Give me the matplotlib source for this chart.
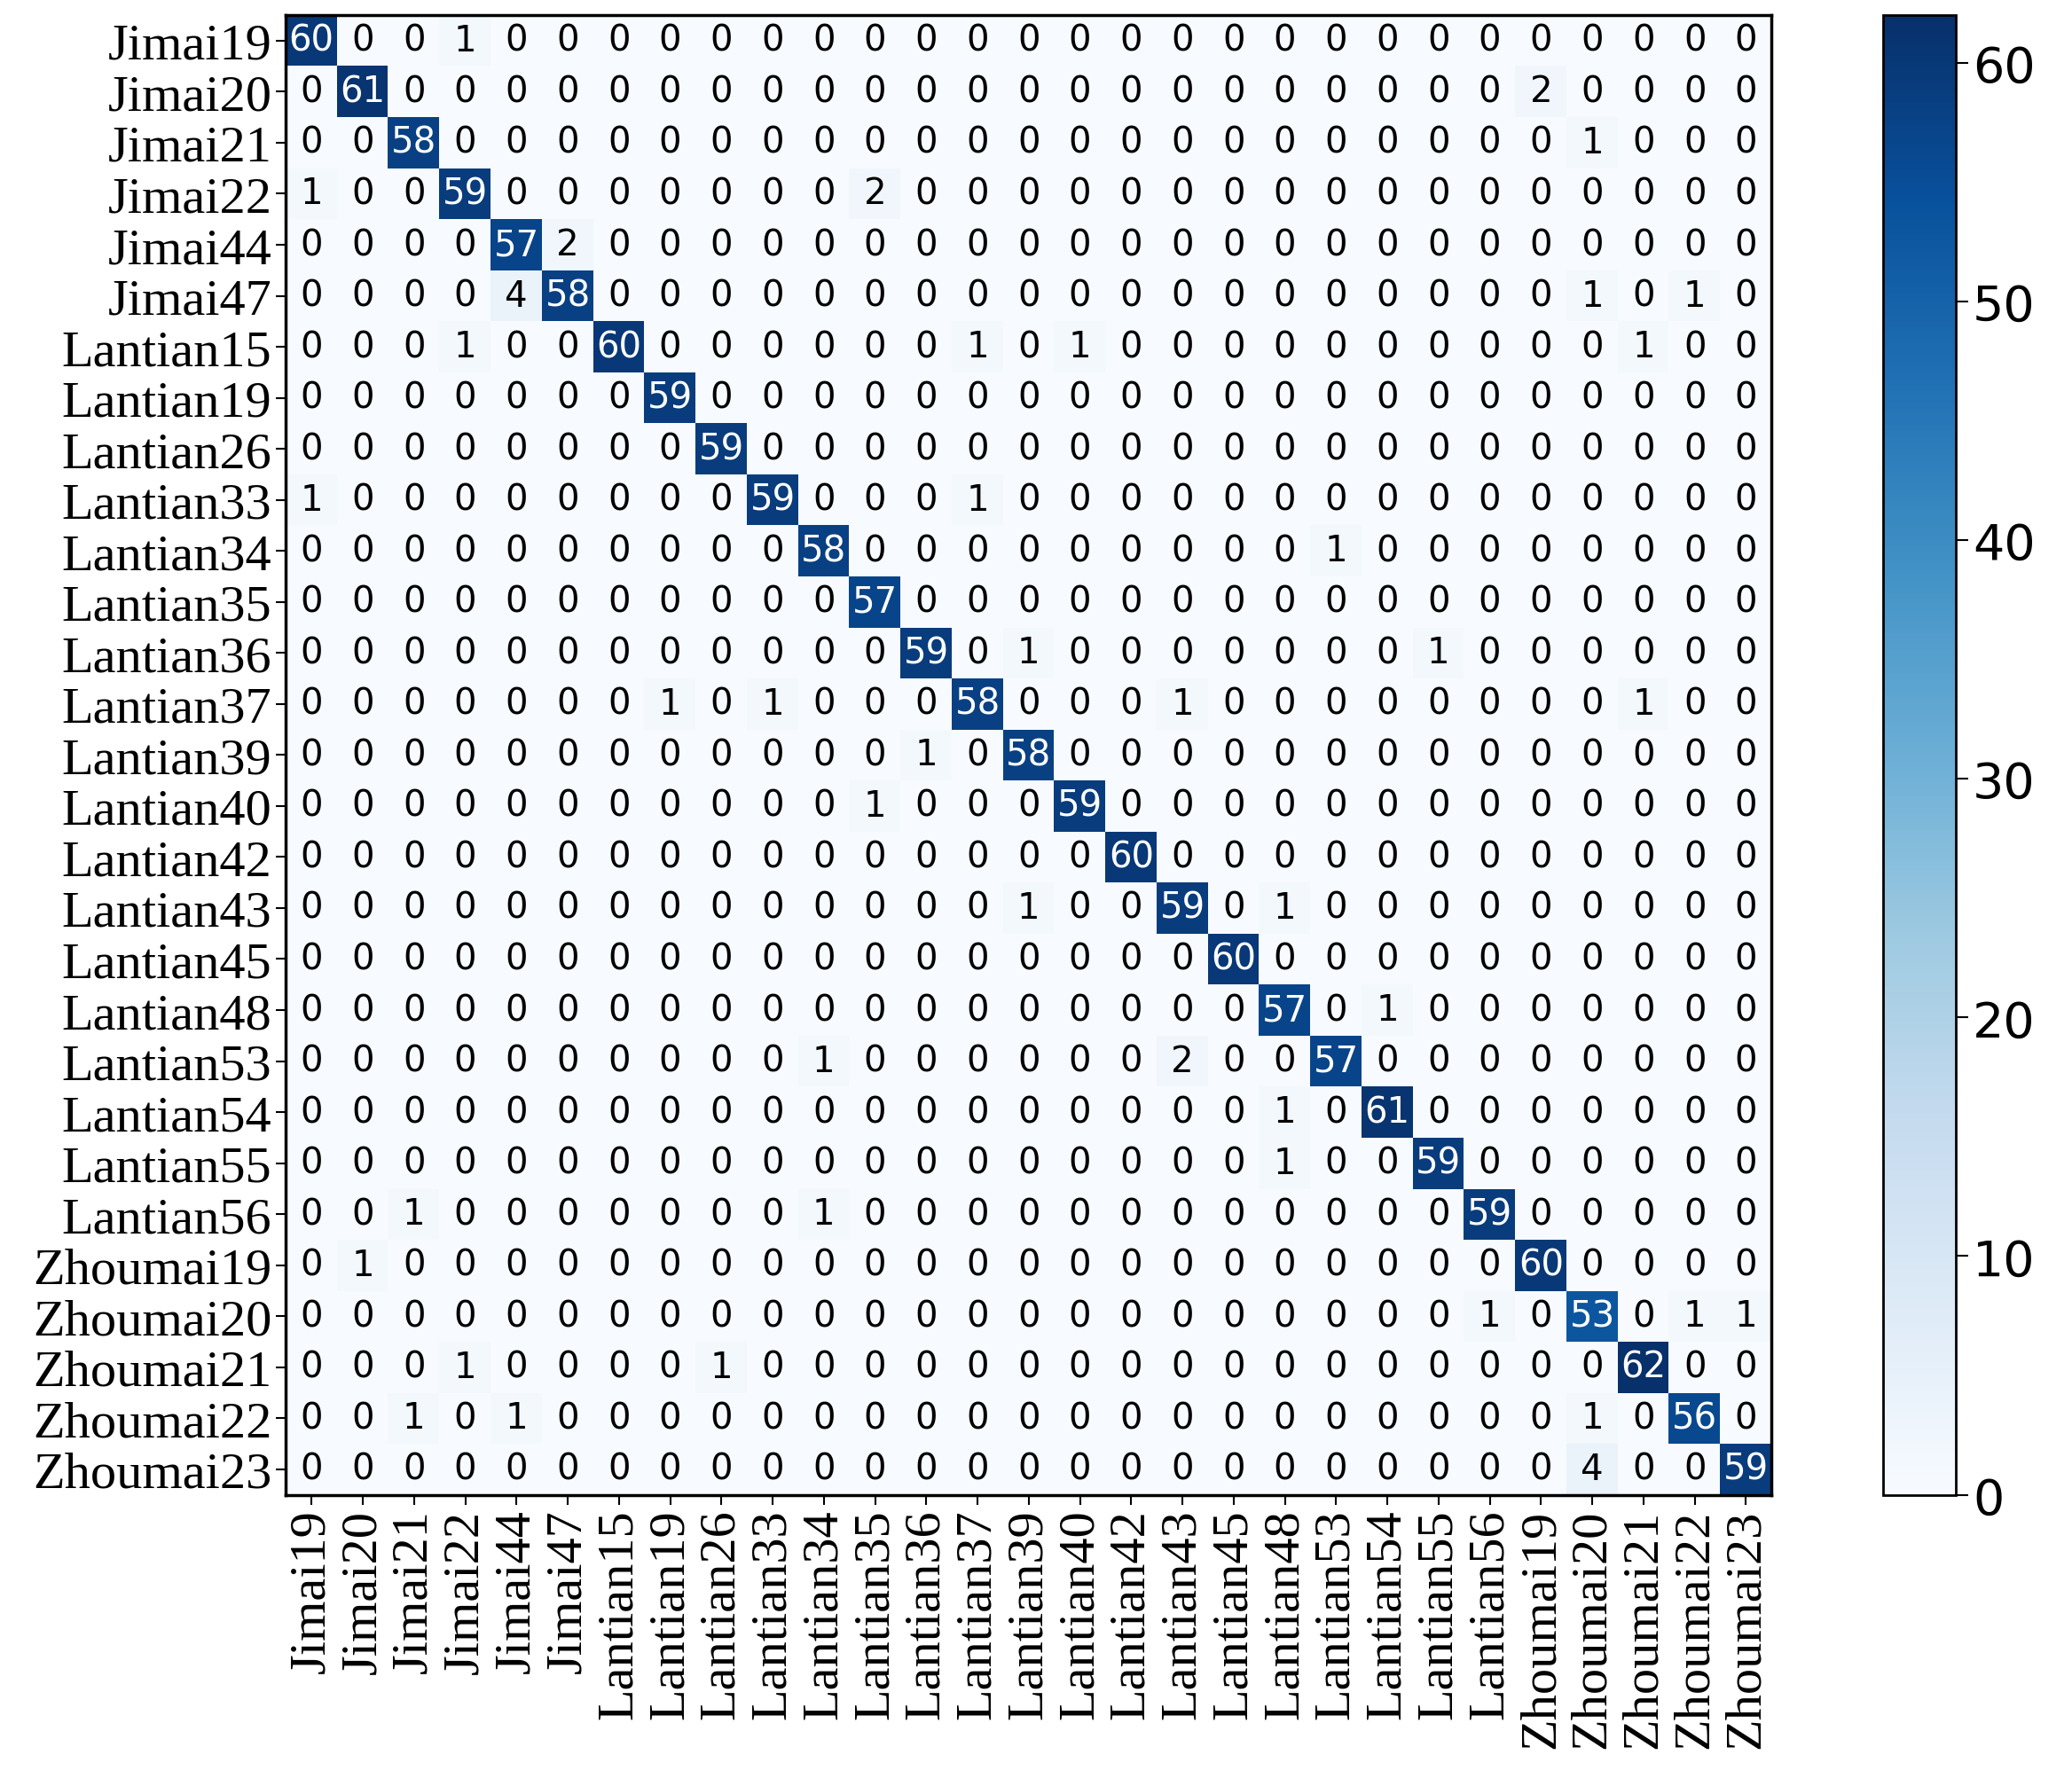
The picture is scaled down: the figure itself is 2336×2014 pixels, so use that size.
import matplotlib
matplotlib.use("Agg")
import matplotlib.pyplot as plt
import numpy as np

labels = [
    "Jimai19", "Jimai20", "Jimai21", "Jimai22", "Jimai44", "Jimai47",
    "Lantian15", "Lantian19", "Lantian26", "Lantian33", "Lantian34", "Lantian35",
    "Lantian36", "Lantian37", "Lantian39", "Lantian40", "Lantian42", "Lantian43",
    "Lantian45", "Lantian48", "Lantian53", "Lantian54", "Lantian55", "Lantian56",
    "Zhoumai19", "Zhoumai20", "Zhoumai21", "Zhoumai22", "Zhoumai23",
]

diagonal = [60, 61, 58, 59, 57, 58, 60, 59, 59, 59, 58, 57, 59, 58, 58, 59,
            60, 59, 60, 57, 57, 61, 59, 59, 60, 53, 62, 56, 59]

# (row, col, count) for off-diagonal confusions
off_diagonal = [
    (0, 3, 1), (1, 24, 2), (2, 25, 1), (3, 0, 1), (3, 11, 2), (4, 5, 2),
    (5, 4, 4), (5, 25, 1), (5, 27, 1),
    (6, 3, 1), (6, 13, 1), (6, 15, 1), (6, 26, 1),
    (9, 0, 1), (9, 13, 1), (10, 20, 1), (12, 14, 1), (12, 22, 1),
    (13, 7, 1), (13, 9, 1), (13, 17, 1), (13, 26, 1),
    (14, 12, 1), (15, 11, 1), (17, 14, 1), (17, 19, 1), (19, 21, 1),
    (20, 10, 1), (20, 17, 2), (21, 19, 1), (22, 19, 1),
    (23, 2, 1), (23, 10, 1), (24, 1, 1),
    (25, 23, 1), (25, 27, 1), (25, 28, 1),
    (26, 3, 1), (26, 8, 1), (27, 2, 1), (27, 4, 1), (27, 25, 1), (28, 25, 4),
]

n = len(labels)
cm = np.zeros((n, n), dtype=int)
np.fill_diagonal(cm, diagonal)
for r, c, v in off_diagonal:
    cm[r, c] = v

fig = plt.figure(figsize=(23.36, 20.15), dpi=100)
ax = fig.add_axes([0.138, 0.163, 0.717, 0.828])
cax = fig.add_axes([0.909, 0.163, 0.035, 0.828])

im = ax.imshow(cm, cmap="Blues", aspect="auto", interpolation="nearest")
cbar = fig.colorbar(im, cax=cax)
cbar.ax.tick_params(labelsize=40, length=10, width=1.5)
cbar.outline.set_linewidth(2)

ax.set_xticks(range(n))
ax.set_yticks(range(n))
ax.set_xticklabels(labels, rotation=90, family="Liberation Serif", fontsize=42)
ax.set_yticklabels(labels, family="Liberation Serif", fontsize=42)
ax.tick_params(length=8, width=1.5)
for s in ax.spines.values():
    s.set_linewidth(2.5)

thresh = cm.max() / 2
for i in range(n):
    for j in range(n):
        ax.text(j, i, str(cm[i, j]), ha="center", va="center", fontsize=29,
                color="white" if cm[i, j] > thresh else "black")

fig.savefig("out.png", dpi=100)
